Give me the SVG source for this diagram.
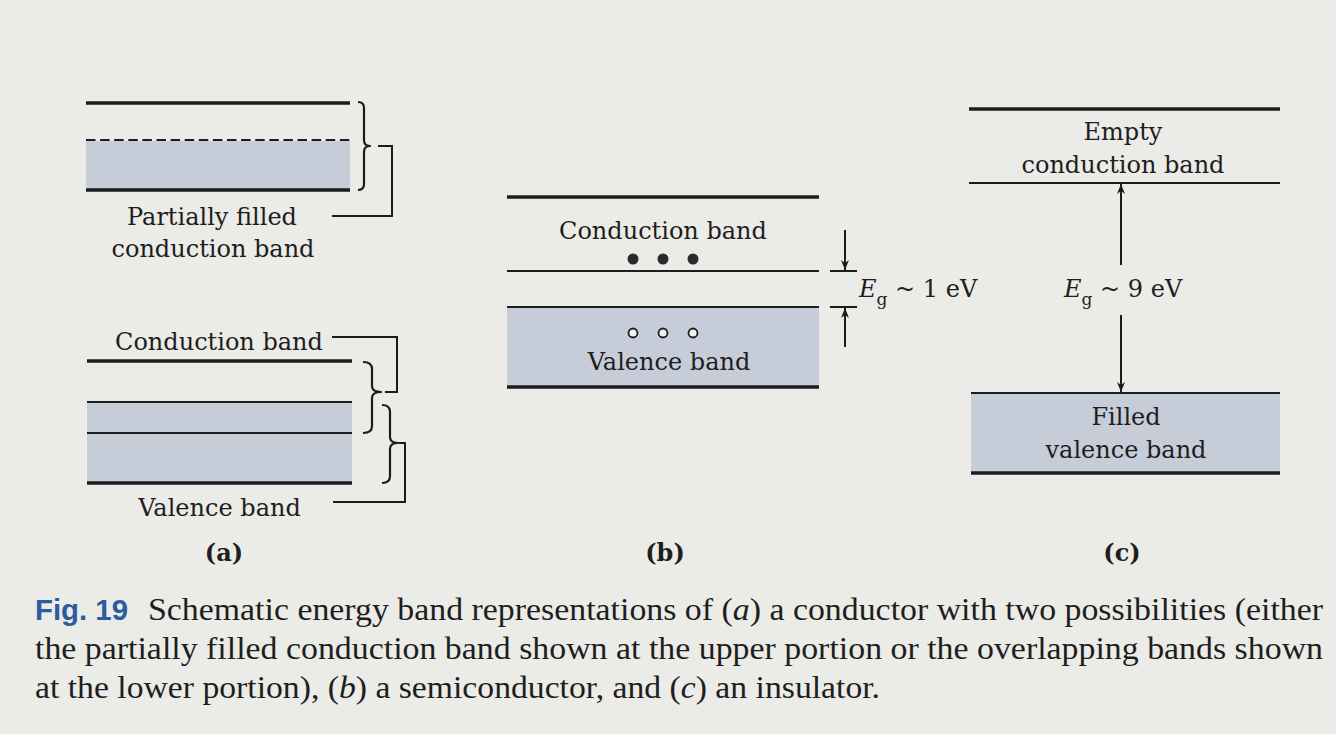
<svg xmlns="http://www.w3.org/2000/svg" width="1336" height="734" viewBox="0 0 1336 734">
<defs>
<style>
.bg{fill:#ebebe7}
.band{fill:#c7ccd9}
.thick{stroke:#1c1c1c;stroke-width:3.6;fill:none}
.thin{stroke:#1c1c1c;stroke-width:2.2;fill:none}
.ln{stroke:#1c1c1c;stroke-width:2;fill:none}
.br{stroke:#1c1c1c;stroke-width:2.2;fill:none;stroke-linejoin:round}
.lbl{font-family:"DejaVu Serif","Liberation Serif",serif;font-size:24px;fill:#1e1e1e;text-anchor:middle}
.eg{font-family:"DejaVu Serif","Liberation Serif",serif;font-size:24px;fill:#1e1e1e}
.pl{font-family:"DejaVu Serif","Liberation Serif",serif;font-size:24px;font-weight:bold;fill:#1e1e1e;text-anchor:middle}
.cap{font-family:"Liberation Serif","Times New Roman",serif;font-size:32px;fill:#1e1e1e}
.fig{font-family:"Liberation Sans Narrow","Liberation Sans",Arial,sans-serif;font-stretch:condensed;font-weight:bold;font-size:29px;fill:#2c5c9c}
</style>
<marker id="ah" viewBox="0 0 10 10" refX="10" refY="5" markerWidth="10" markerHeight="10" markerUnits="userSpaceOnUse" orient="auto">
<path d="M0,1 L10,5 L0,9 L3,5 Z" fill="#1c1c1c"/>
</marker>
</defs>
<rect class="bg" x="0" y="0" width="1336" height="734"/>

<!-- Panel (a) upper: partially filled conduction band -->
<g id="a-upper">
<rect class="band" x="86" y="141" width="264" height="48"/>
<line class="thick" x1="86" y1="103" x2="350" y2="103"/>
<line class="thin" x1="86" y1="140" x2="350" y2="140" stroke-dasharray="9.5 4.6"/>
<line class="thick" x1="86" y1="190" x2="350" y2="190"/>
<path class="br" d="M358,102 Q364,102 364,108 L364,140 Q364,146 370,146 Q364,146 364,152 L364,184 Q364,190 358,190"/>
<text class="lbl" x="212" y="225">Partially filled</text>
<text class="lbl" x="213" y="257">conduction band</text>
</g>

<!-- Panel (a) lower: overlapping bands -->
<g id="a-lower">
<rect class="band" x="87" y="403" width="265" height="80"/>
<line class="thick" x1="87" y1="361" x2="352" y2="361"/>
<line class="thin" x1="87" y1="402" x2="352" y2="402"/>
<line class="thin" x1="87" y1="433" x2="352" y2="433"/>
<line class="thick" x1="87" y1="483" x2="352" y2="483"/>
<path class="br" d="M363,362 Q372,362 372,369 L372,386 Q372,392 381,392 Q372,392 372,398 L372,426 Q372,433 363,433"/>
<path class="br" d="M382,405 Q390,405 390,412 L390,437 Q390,443 398,443 Q390,443 390,449 L390,476 Q390,483 382,483"/>
<text class="lbl" x="219" y="350">Conduction band</text>
<text class="lbl" x="219.5" y="516">Valence band</text>
<text class="pl" x="224" y="561">(a)</text>
</g>

<!-- Panel (b): semiconductor -->
<g id="b">
<rect class="band" x="507" y="308" width="312" height="79"/>
<line class="thick" x1="507" y1="197" x2="819" y2="197"/>
<line class="thin" x1="507" y1="271" x2="819" y2="271"/>
<line class="thin" x1="507" y1="307" x2="819" y2="307"/>
<line class="thick" x1="507" y1="387" x2="819" y2="387"/>
<circle cx="633" cy="259" r="5.5" fill="#2a2a2a"/>
<circle cx="663" cy="259" r="5.5" fill="#2a2a2a"/>
<circle cx="693" cy="259" r="5.5" fill="#2a2a2a"/>
<circle cx="633" cy="333" r="4.5" fill="#f2f2f0" stroke="#1c1c1c" stroke-width="1.8"/>
<circle cx="663" cy="333" r="4.5" fill="#f2f2f0" stroke="#1c1c1c" stroke-width="1.8"/>
<circle cx="693" cy="333" r="4.5" fill="#f2f2f0" stroke="#1c1c1c" stroke-width="1.8"/>
<text class="lbl" x="663" y="239">Conduction band</text>
<text class="lbl" x="669" y="370">Valence band</text>
<text class="eg" x="859" y="297"><tspan font-style="italic">E</tspan><tspan font-size="17" dy="8">g</tspan><tspan dy="-8"> ~ 1 eV</tspan></text>
<text class="pl" x="665" y="561">(b)</text>
</g>

<!-- Panel (c): insulator -->
<g id="c">
<rect class="band" x="971" y="394" width="309" height="79"/>
<line class="thick" x1="969" y1="109" x2="1280" y2="109"/>
<line class="thin" x1="969" y1="183" x2="1280" y2="183"/>
<line class="thin" x1="971" y1="393" x2="1280" y2="393"/>
<line class="thick" x1="971" y1="473" x2="1280" y2="473"/>
<text class="lbl" x="1123" y="140">Empty</text>
<text class="lbl" x="1123" y="173">conduction band</text>
<text class="eg" x="1064" y="297"><tspan font-style="italic">E</tspan><tspan font-size="17" dy="8">g</tspan><tspan dy="-8"> ~ 9 eV</tspan></text>
<text class="lbl" x="1126" y="425">Filled</text>
<text class="lbl" x="1126" y="458">valence band</text>
<text class="pl" x="1122" y="561">(c)</text>
</g>

<!-- Connectors: leader lines and gap arrows -->
<g id="connectors">
<path class="ln" d="M378,146 H392 V216 H332"/>
<path class="ln" d="M332,337 H397 V392 H385"/>
<path class="ln" d="M399,443 H405 V502 H333"/>
<line class="ln" x1="845" y1="230" x2="845" y2="270" marker-end="url(#ah)"/>
<line class="ln" x1="830" y1="271" x2="857" y2="271"/>
<line class="ln" x1="830" y1="307" x2="857" y2="307"/>
<line class="ln" x1="845" y1="347" x2="845" y2="308" marker-end="url(#ah)"/>
<line class="ln" x1="1121" y1="265" x2="1121" y2="184" marker-end="url(#ah)"/>
<line class="ln" x1="1121" y1="315" x2="1121" y2="392" marker-end="url(#ah)"/>
</g>

<!-- Caption -->
<g id="caption">
<text class="fig" x="35" y="620" textLength="93" lengthAdjust="spacingAndGlyphs">Fig. 19</text>
<text class="cap" x="148" y="620" textLength="1175" lengthAdjust="spacingAndGlyphs">Schematic energy band representations of (<tspan font-style="italic">a</tspan>) a conductor with two possibilities (either</text>
<text class="cap" x="35" y="659" textLength="1288" lengthAdjust="spacingAndGlyphs">the partially filled conduction band shown at the upper portion or the overlapping bands shown</text>
<text class="cap" x="35" y="698" textLength="845" lengthAdjust="spacingAndGlyphs">at the lower portion), (<tspan font-style="italic">b</tspan>) a semiconductor, and (<tspan font-style="italic">c</tspan>) an insulator.</text>
</g>
</svg>
